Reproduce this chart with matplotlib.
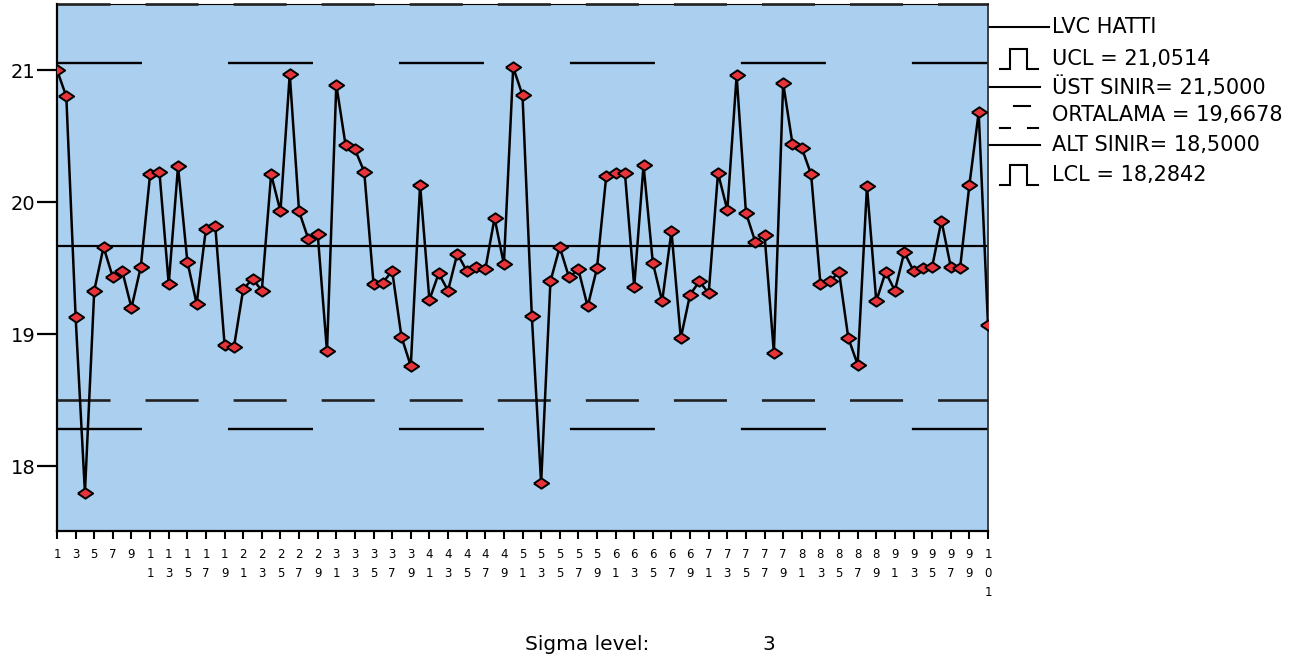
import numpy as np
import matplotlib
matplotlib.use("Agg")
import matplotlib.pyplot as plt

plt.rcParams['font.family'] = ['DejaVu Sans']
plt.rcParams['lines.scale_dashes'] = False

# data
values = [21.00, 20.80, 19.13, 17.80, 19.33, 19.66, 19.43, 19.48, 19.20, 19.51,
          20.21, 20.23, 19.38, 20.27, 19.55, 19.23, 19.80, 19.82, 18.92, 18.90,
          19.34, 19.42, 19.33, 20.21, 19.93, 20.97, 19.93, 19.72, 19.76, 18.87,
          20.89, 20.43, 20.40, 20.23, 19.38, 19.39, 19.48, 18.98, 18.76, 20.13,
          19.26, 19.46, 19.33, 19.61, 19.48, 19.51, 19.49, 19.88, 19.53, 21.02,
          20.81, 19.14, 17.87, 19.40, 19.66, 19.43, 19.49, 19.21, 19.50, 20.20,
          20.22, 20.22, 19.36, 20.28, 19.54, 19.25, 19.78, 18.97, 19.30, 19.40,
          19.31, 20.22, 19.94, 20.96, 19.92, 19.70, 19.75, 18.86, 20.90, 20.44,
          20.41, 20.21, 19.38, 19.40, 19.47, 18.97, 18.77, 20.12, 19.25, 19.47,
          19.33, 19.62, 19.48, 19.50, 19.51, 19.86, 19.51, 19.50, 20.13, 20.68,
          19.07]
samples = np.arange(1, len(values) + 1)
center = 19.6678
ucl = 21.0514
lcl = 18.2842
usl = 21.5
lsl = 18.5
legend_labels = ['LVC HATTI', 'UCL = 21,0514', 'ÜST SINIR= 21,5000',
                 'ORTALAMA = 19,6678', 'ALT SINIR= 18,5000', 'LCL = 18,2842']
sigma_level = 3

W, H = 1306, 659
fig = plt.figure(figsize=(W / 100, H / 100), dpi=100)

# overlay in pixel coordinates for the legend glyphs
ov = fig.add_axes([0, 0, 1, 1])
ov.set_xlim(0, W)
ov.set_ylim(H, 0)
ov.axis('off')

ax = fig.add_axes([57 / W, (H - 531) / H, 931 / W, 527 / H])
ax.set_facecolor('#abcfee')
ax.set_xlim(1, 101)
ax.set_ylim(17.51, 21.5)

ax.axhline(center, color='black', lw=1.6, zorder=2)
for lvl in (ucl, lcl):
    ax.axhline(lvl, color='black', lw=1.7, dashes=(61.2, 61.9), zorder=2)
for lvl in (usl, lsl):
    ax.axhline(lvl, color='#222222', lw=1.9, dashes=(38.2, 25.2), zorder=3,
               clip_on=False)

ax.plot(samples, values, color='black', lw=1.8, solid_joinstyle='miter', zorder=4)
diamond = [(-1, 0), (0, 0.68), (1, 0), (0, -0.68), (-1, 0)]
ax.plot(samples, values, ls='none', marker=diamond, ms=11,
        mfc='#e8333b', mec='black', mew=1.4, zorder=5)

ax.spines['top'].set_linewidth(0.8)
for s in ('left', 'bottom'):
    ax.spines[s].set_linewidth(1.6)
ax.spines['right'].set_linewidth(1.3)
ax.spines['right'].set_color('#333333')

xt = np.arange(1, 102, 2)
ax.set_xticks(xt)
ax.set_xticklabels(['\n'.join(str(n)) for n in xt], fontsize=8.5, linespacing=1.6)
ax.tick_params(axis='x', direction='out', length=5.5, width=1.5, pad=7)
ax.set_yticks([18, 19, 20, 21])
ax.set_yticklabels(['18', '19', '20', '21'], fontsize=14)
ax.tick_params(axis='y', direction='out', length=14.5, width=1.6, pad=1)

# legend
lw_leg = 1.5
text_x = 1052
rows_y = [27, 59, 87, 115, 145, 175]
ov.plot([988, 1049], [rows_y[0]] * 2, color='black', lw=lw_leg)
ov.plot([988, 1040], [rows_y[2]] * 2, color='black', lw=lw_leg)
ov.plot([988, 1040], [rows_y[4]] * 2, color='black', lw=lw_leg)
for yc in (rows_y[1], rows_y[5]):
    px = [1000, 1010, 1010, 1027, 1027, 1038]
    py = [yc + 10, yc + 10, yc - 10, yc - 10, yc + 10, yc + 10]
    ov.plot(px, py, color='black', lw=lw_leg, solid_joinstyle='miter')
yo = rows_y[3]
ov.plot([1014, 1030], [yo - 9, yo - 9], color='black', lw=lw_leg)
ov.plot([1000, 1010], [yo + 13, yo + 13], color='black', lw=lw_leg)
ov.plot([1028, 1038], [yo + 13, yo + 13], color='black', lw=lw_leg)
for lab, yc in zip(legend_labels, rows_y):
    ov.text(text_x, yc, lab, fontsize=15, va='center', ha='left')

ov.text(525, 645, 'Sigma level:', fontsize=14.5, va='center', ha='left')
ov.text(762, 645, str(sigma_level), fontsize=14.5, va='center', ha='left')

fig.savefig('out.png', dpi=100)
